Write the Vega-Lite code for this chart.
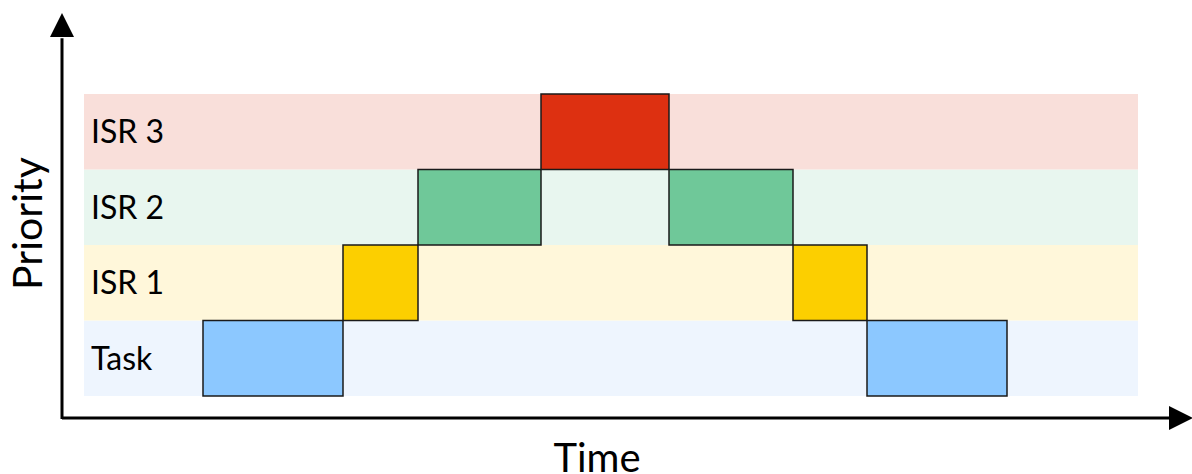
{
  "$schema": "https://vega.github.io/schema/vega-lite/v6.json",
  "autosize": {"type": "none"},
  "width": 1192,
  "height": 474,
  "padding": 0,
  "background": "white",
  "config": {"view": {"stroke": null}},
  "datasets": {
    "bands": [
      {"level": "Task", "x0": 2.2, "x1": 107.6, "y0": 0, "y1": 1},
      {"level": "ISR 1", "x0": 2.2, "x1": 107.6, "y0": 1, "y1": 2},
      {"level": "ISR 2", "x0": 2.2, "x1": 107.6, "y0": 2, "y1": 3},
      {"level": "ISR 3", "x0": 2.2, "x1": 107.6, "y0": 3, "y1": 4}
    ],
    "blocks": [
      {"level": "Task", "t0": 14.1, "t1": 28.1, "y0": 0, "y1": 1},
      {"level": "ISR 1", "t0": 28.1, "t1": 35.6, "y0": 1, "y1": 2},
      {"level": "ISR 2", "t0": 35.6, "t1": 47.9, "y0": 2, "y1": 3},
      {"level": "ISR 3", "t0": 47.9, "t1": 60.7, "y0": 3, "y1": 4},
      {"level": "ISR 2", "t0": 60.7, "t1": 73.1, "y0": 2, "y1": 3},
      {"level": "ISR 1", "t0": 73.1, "t1": 80.5, "y0": 1, "y1": 2},
      {"level": "Task", "t0": 80.5, "t1": 94.5, "y0": 0, "y1": 1}
    ],
    "axes": [
      {"axis": "x", "x0": 0, "x1": 111.2, "y0": -0.291, "y1": -0.291},
      {"axis": "y", "x0": 0, "x1": 0, "y0": -0.305, "y1": 4.74}
    ],
    "heads": [
      {"axis": "x", "x": 111.9, "y": -0.291},
      {"axis": "y", "x": 0, "y": 4.914}
    ],
    "xtitle": [{"label": "Time", "x": 53.5, "y": -1.007}],
    "ytitle": [{"label": "Priority", "x": -2.0, "y": 2.285}]
  },
  "layer": [
    {
      "data": {"name": "bands"},
      "mark": {"type": "rect"},
      "encoding": {
        "x": {"field": "x0", "type": "quantitative", "scale": {"domain": [-6.2, 113.0], "nice": false, "zero": false}, "axis": null},
        "x2": {"field": "x1"},
        "y": {"field": "y0", "type": "quantitative", "scale": {"domain": [-1.033, 5.245], "nice": false, "zero": false}, "axis": null},
        "y2": {"field": "y1"},
        "fill": {"field": "level", "type": "nominal", "legend": null,
          "scale": {"domain": ["Task", "ISR 1", "ISR 2", "ISR 3"], "range": ["#EEF5FE", "#FFF7DA", "#E8F6EF", "#F9DFDA"]}}
      }
    },
    {
      "data": {"name": "blocks"},
      "mark": {"type": "rect", "stroke": "#1a1a1a", "strokeWidth": 1.5},
      "encoding": {
        "x": {"field": "t0", "type": "quantitative"},
        "x2": {"field": "t1"},
        "y": {"field": "y0", "type": "quantitative"},
        "y2": {"field": "y1"},
        "fill": {"field": "level", "type": "nominal", "legend": null,
          "scale": {"domain": ["Task", "ISR 1", "ISR 2", "ISR 3"], "range": ["#8CC8FF", "#FCCF00", "#6FC899", "#DD3011"]}}
      }
    },
    {
      "data": {"name": "bands"},
      "mark": {"type": "text", "font": "Lato", "fontSize": 32, "align": "left", "baseline": "alphabetic", "dx": 7, "dy": 49, "color": "#000"},
      "encoding": {
        "x": {"field": "x0", "type": "quantitative"},
        "y": {"field": "y1", "type": "quantitative"},
        "text": {"field": "level"}
      }
    },
    {
      "data": {"name": "axes"},
      "mark": {"type": "rule", "strokeWidth": 3, "color": "#000"},
      "encoding": {
        "x": {"field": "x0", "type": "quantitative"},
        "x2": {"field": "x1"},
        "y": {"field": "y0", "type": "quantitative"},
        "y2": {"field": "y1"}
      }
    },
    {
      "data": {"name": "heads"},
      "mark": {"type": "point", "filled": true, "opacity": 1, "size": 576, "color": "#000"},
      "encoding": {
        "x": {"field": "x", "type": "quantitative"},
        "y": {"field": "y", "type": "quantitative"},
        "shape": {"field": "axis", "type": "nominal", "legend": null,
          "scale": {"domain": ["x", "y"], "range": ["M-1,-1L1,0L-1,1Z", "M0,-1L1,1L-1,1Z"]}}
      }
    },
    {
      "data": {"name": "xtitle"},
      "mark": {"type": "text", "font": "Lato", "fontSize": 40, "align": "center", "baseline": "alphabetic", "color": "#000"},
      "encoding": {
        "x": {"field": "x", "type": "quantitative"},
        "y": {"field": "y", "type": "quantitative"},
        "text": {"field": "label"}
      }
    },
    {
      "data": {"name": "ytitle"},
      "mark": {"type": "text", "font": "Lato", "fontSize": 41, "align": "center", "baseline": "alphabetic", "angle": 270, "color": "#000"},
      "encoding": {
        "x": {"field": "x", "type": "quantitative"},
        "y": {"field": "y", "type": "quantitative"},
        "text": {"field": "label"}
      }
    }
  ],
  "resolve": {"scale": {"fill": "independent"}}
}
